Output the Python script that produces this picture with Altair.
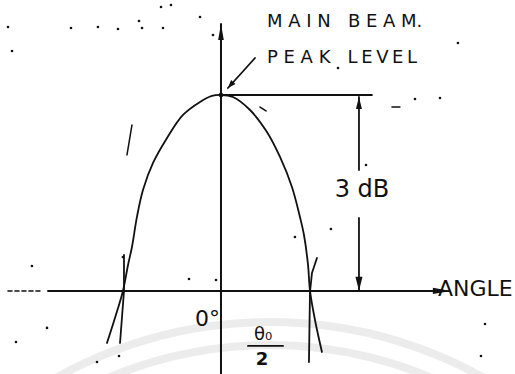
import altair as alt
import pandas as pd

# Main-beam cut of an antenna pattern.
# angle: in units of theta0/2 (half of the half-power beamwidth), 0 = boresight
# level: relative level in dB, 0 = main-beam peak, -3 = half-power level
beam_angle = [-1.213, -1.128, -1.043, -0.989, -0.947, -0.894, -0.830, -0.723,
              -0.574, -0.404, -0.223, -0.096, 0.0, 0.128, 0.309, 0.489,
              0.628, 0.755, 0.840, 0.883, 0.926, 0.947, 1.000, 1.074]
beam_level = [-3.796, -3.413, -3.000, -2.602, -2.327, -1.867, -1.454, -1.041,
              -0.658, -0.306, -0.107, -0.015, 0.0, -0.031, -0.230, -0.566,
              -0.949, -1.408, -1.867, -2.143, -2.602, -3.000, -3.444, -3.934]

# ticks marking where the beam crosses the -3 dB line
left_mark_angle = [-1.032, -1.032, -1.074]
left_mark_level = [-2.449, -3.000, -3.796]
right_mark_angle = [1.021, 0.968, 0.947, 0.936]
right_mark_level = [-2.495, -2.724, -3.015, -4.087]

# reference lines
half_power_db = -3.0
axis_angle_range = [-1.840, 2.255]
lead_in_range = [-2.266, -1.926]
level_axis_range = [1.087, -4.35]
peak_line_end = 1.606
dim_angle = 1.468
dim_upper = [-0.031, -1.148]
dim_lower = [-1.883, -3.000]
pointer_angle = [0.362, 0.074]
pointer_level = [0.566, 0.107]
frac_bar_angle = [0.287, 0.660]
frac_bar_level = -3.842

# scanner specks on the sheet
speck_angle = [-2.266, -2.223, -1.596, -1.309, -1.096, -0.872, -0.840, -0.638,
               -0.532, -0.617, -0.223, -0.085, 1.245, 2.521, 2.064, 2.330,
               -2.011, -1.851, -2.181, -1.319, -1.085, -0.340, -0.053, 0.787,
               2.809, 2.766, -1.043, 1.170, 1.543]
speck_level = [1.041, 0.673, 1.026, 1.041, 1.010, 1.133, 1.026, 1.347,
               1.378, 1.026, 1.194, 0.918, 0.413, 0.796, -0.061, -0.046,
               -2.617, -3.566, -3.781, -4.087, -3.995, -2.816, -2.832, -2.174,
               -3.505, -3.995, -2.480, -2.051, -1.071]
stroke_angle = [1.819, 1.904, 0.415, 0.479, -0.947, -1.000]
stroke_level = [-0.184, -0.184, -0.184, -0.245, -0.459, -0.918]
stroke_id = ["a", "a", "b", "b", "c", "c"]

NB = "\u00a0"
TS = "\u2009"
label_main = NB.join("MAIN") + NB * 3 + NB.join("BEAM") + "."
label_peak = NB.join("PEAK") + NB * 3 + TS.join("LEVEL")

INK = "#111111"
FONT = "DejaVu Sans"

X = alt.X("angle:Q", scale=alt.Scale(domain=[-2.351, 3.128], nice=False, zero=False), axis=None)
Y = alt.Y("level:Q", scale=alt.Scale(domain=[-4.271, 1.454], nice=False, zero=False), axis=None)


def path(parts):
    rows = []
    for name, xs, ys in parts:
        for i, (a, l) in enumerate(zip(xs, ys)):
            rows.append({"part": name, "seq": i, "angle": a, "level": l})
    return pd.DataFrame(rows)


def lines(df, width=2.0, **kw):
    return alt.Chart(df).mark_line(
        color=INK, strokeWidth=width, strokeCap="round", strokeJoin="round", **kw
    ).encode(x=X, y=Y, detail="part:N", order="seq:Q")


def pts(xs, ys):
    return pd.DataFrame({"angle": xs, "level": ys})


# faint watermark arcs
wm = alt.Chart(pd.DataFrame({"k": [0]}))
arcs = alt.layer(
    wm.mark_arc(radius=442, radius2=434, theta=5.70, theta2=6.87, color="#ececec")
    .encode(x=alt.value(270), y=alt.value(760)),
    wm.mark_arc(radius=419, radius2=411, theta=5.80, theta2=6.77, color="#ececec")
    .encode(x=alt.value(270), y=alt.value(760)),
)

specks = alt.Chart(pts(speck_angle, speck_level)).mark_circle(
    color=INK, size=7, opacity=1
).encode(x=X, y=Y)
speck_strokes = lines(
    pd.DataFrame({"part": stroke_id, "seq": list(range(6)),
                  "angle": stroke_angle, "level": stroke_level}),
    width=1.5,
)

lead_in = lines(path([("lead", lead_in_range, [half_power_db] * 2)]),
                width=1.6, strokeDash=[4, 3])

axes = lines(path([
    ("angle_axis", axis_angle_range, [half_power_db] * 2),
    ("level_axis", [0.0, 0.0], level_axis_range),
]), width=2.0)

beam = lines(path([("beam", beam_angle, beam_level)]), width=1.8,
             interpolate="catmull-rom")

marks = lines(path([
    ("left", left_mark_angle, left_mark_level),
    ("right", right_mark_angle, right_mark_level),
]), width=1.8)

guides = lines(path([
    ("peak", [0.0, peak_line_end], [0.0, 0.0]),
    ("dim_up", [dim_angle] * 2, dim_upper),
    ("dim_dn", [dim_angle] * 2, dim_lower),
    ("pointer", pointer_angle, pointer_level),
    ("frac", frac_bar_angle, [frac_bar_level] * 2),
]), width=1.8)

DART = "M0,0L-0.35,2L0.35,2Z"
HEAD = "M0,0L-0.5,2L0.5,2Z"
BARB = "M0,0L-0.75,2L0.75,2Z"

heads = alt.layer(
    alt.Chart(pts([axis_angle_range[1] + 0.191], [half_power_db])).mark_point(
        shape=DART, size=324, filled=True, color=INK, opacity=1, angle=90
    ).encode(x=X, y=Y),
    alt.Chart(pts([0.0], [level_axis_range[0]])).mark_point(
        shape=DART, size=260, filled=True, color=INK, opacity=1, angle=0
    ).encode(x=X, y=Y),
    alt.Chart(pts([dim_angle], [dim_upper[0]])).mark_point(
        shape=HEAD, size=144, filled=True, color=INK, opacity=1, angle=0
    ).encode(x=X, y=Y),
    alt.Chart(pts([dim_angle], [dim_lower[1]])).mark_point(
        shape=HEAD, size=200, filled=True, color=INK, opacity=1, angle=180
    ).encode(x=X, y=Y),
    alt.Chart(pts([pointer_angle[1]], [pointer_level[1]])).mark_point(
        shape=BARB, size=64, filled=True, color=INK, opacity=1, angle=222
    ).encode(x=X, y=Y),
    alt.Chart(pts([0.0], [0.0])).mark_circle(size=22, color=INK, opacity=1)
    .encode(x=X, y=Y),
)


def label(text, a, l, size, align="left", weight="normal"):
    df = pd.DataFrame({"angle": [a], "level": [l], "t": [text]})
    return alt.Chart(df).mark_text(
        font=FONT, fontSize=size, fontWeight=weight, color=INK, align=align,
        baseline="alphabetic"
    ).encode(x=X, y=Y, text="t:N")


texts = alt.layer(
    label(label_main, 0.489, 1.041, 18),
    label(label_peak, 0.489, 0.490, 18),
    label("3" + NB + "dB", 1.50, -1.561, 24, align="center"),
    label("ANGLE", 2.309, -3.077, 22),
    label("0°", -0.277, -3.536, 22),
    label("θ₀", 0.447, -3.750, 18, align="center"),
    label("2", 0.436, -4.133, 18, align="center", weight="bold"),
)

chart = alt.layer(
    arcs, specks, speck_strokes, lead_in, axes, beam, marks, guides, heads, texts
).properties(
    width=515, height=374, padding=0, autosize=alt.AutoSizeParams(type="none"),
    background="white",
).configure_view(stroke=None)

chart.save("out.html", embed_options={"renderer": "svg", "actions": False})
